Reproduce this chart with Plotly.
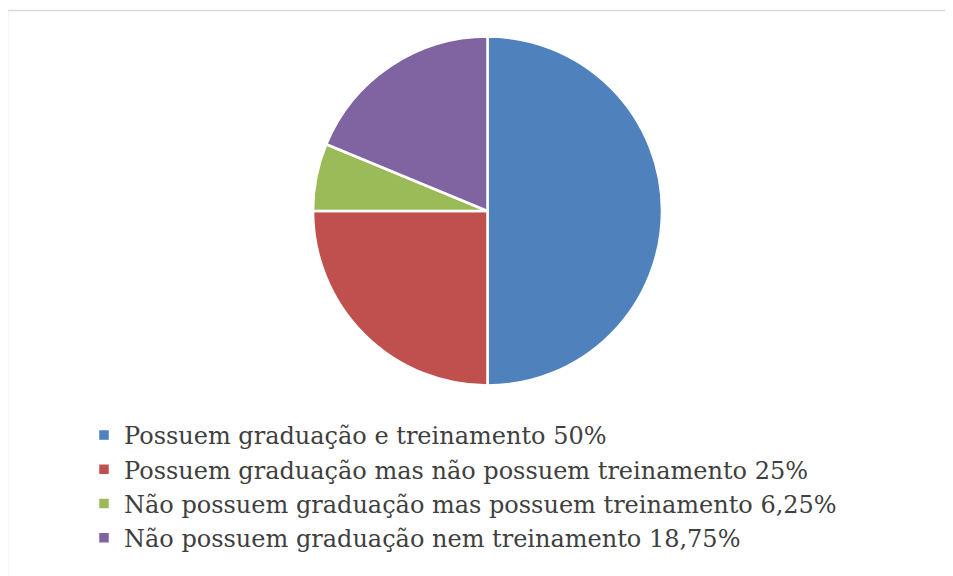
import plotly.graph_objects as go

labels = [
    "Possuem graduação e treinamento 50%",
    "Possuem graduação mas não possuem treinamento 25%",
    "Não possuem graduação mas possuem treinamento 6,25%",
    "Não possuem graduação nem treinamento 18,75%",
]
values = [50, 25, 6.25, 18.75]
colors = ["#4F81BD", "#C0504D", "#9BBB59", "#8064A2"]

W, H = 953, 576
OFF = 8  # page body margin in the browser

cx, cy, r = 487.5 - OFF, 211 - OFF, 174.5

fig = go.Figure()
fig.add_trace(
    go.Pie(
        labels=labels,
        values=values,
        sort=False,
        direction="clockwise",
        rotation=0,
        marker=dict(colors=colors, line=dict(color="white", width=2.5)),
        textinfo="none",
        hoverinfo="label+percent",
        domain=dict(x=[(cx - r) / W, (cx + r) / W],
                    y=[1 - (cy + r) / H, 1 - (cy - r) / H]),
    )
)

serif = "DejaVu Serif"

fig.update_layout(
    width=W,
    height=H,
    margin=dict(l=0, r=0, t=0, b=0),
    paper_bgcolor="white",
    plot_bgcolor="white",
    font=dict(family=serif, color="#404040"),
    legend=dict(
        x=(84 - OFF) / W,
        y=1 - (413 - OFF) / H,
        xanchor="left",
        yanchor="top",
        font=dict(family=serif, size=24, color="#3f3f3f"),
        itemwidth=30,
        bgcolor="rgba(0,0,0,0)",
    ),
    shapes=[
        dict(type="rect", xref="paper", yref="paper",
             x0=(7 - OFF + 0.5) / W, x1=1.05, y0=-0.05, y1=1 - (10 - OFF + 0.5) / H,
             line=dict(color="#d9d9d9", width=1.5), layer="below"),
    ],
)

fig.write_html("out.html")
